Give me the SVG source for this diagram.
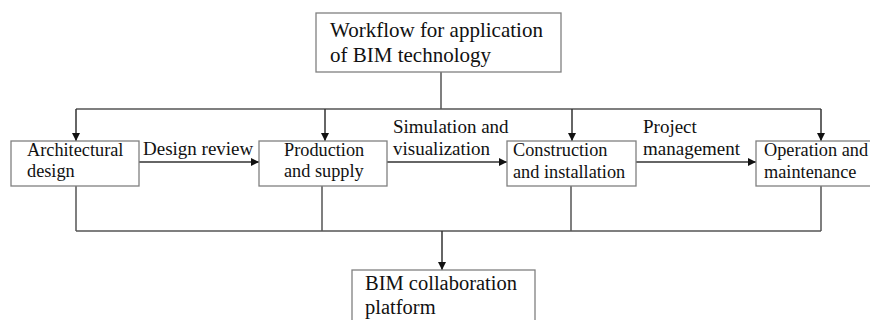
<svg xmlns="http://www.w3.org/2000/svg" width="870" height="320" viewBox="0 0 870 320">
<style>
.box{fill:#fff;stroke:#808080;stroke-width:1.3}
.t{font-family:"Liberation Serif","Times New Roman",serif;font-size:18.3px;fill:#111}
.lb{font-family:"Liberation Serif","Times New Roman",serif;font-size:19px;fill:#111}
.tl{font-family:"Liberation Serif","Times New Roman",serif;font-size:21px;fill:#111}
.ln{fill:none;stroke:#555;stroke-width:1.5}
.ar{fill:none;stroke:#333;stroke-width:1.5;marker-end:url(#ah)}
</style>
<defs>
<marker id="ah" viewBox="0 0 10 10" refX="10" refY="5" markerWidth="10" markerHeight="8" markerUnits="userSpaceOnUse" orient="auto">
<path d="M0,0 L10,5 L0,10 Z" fill="#111"/>
</marker>
</defs>
<rect width="870" height="320" fill="#fff"/>
<g id="connectors">
<path class="ln" d="M441,72 V109 M76,109 H821"/>
<path class="ar" d="M76,109 V141"/>
<path class="ar" d="M325,109 V141"/>
<path class="ar" d="M572,109 V141"/>
<path class="ar" d="M821,109 V141"/>
<path class="ar" d="M139,162 H259"/>
<path class="ar" d="M387,162 H507"/>
<path class="ar" d="M636,162 H756"/>
<path class="ln" d="M76,186 V231 M322,186 V231 M571,186 V231 M821,186 V231 M76,231 H821"/>
<path class="ar" d="M442,231 V270"/>
<text class="lb" x="143" y="155">Design review</text>
<text class="lb" x="393" y="133">Simulation and</text>
<text class="lb" x="393" y="155">visualization</text>
<text class="lb" x="643" y="133">Project</text>
<text class="lb" x="643" y="155">management</text>
</g>
<g id="workflow">
<rect class="box" x="316" y="13" width="245" height="59"/>
<text class="tl" x="330" y="37">Workflow for application</text>
<text class="tl" x="330" y="62">of BIM technology</text>
</g>
<g id="architectural">
<rect class="box" x="11" y="141" width="128" height="45"/>
<text class="t" x="27" y="156">Architectural</text>
<text class="t" x="27" y="177">design</text>
</g>
<g id="production">
<rect class="box" x="259" y="141" width="128" height="45"/>
<text class="t" x="284" y="156">Production</text>
<text class="t" x="284" y="177">and supply</text>
</g>
<g id="construction">
<rect class="box" x="507" y="141" width="129" height="45"/>
<text class="t" x="513" y="156">Construction</text>
<text class="t" x="513" y="178">and installation</text>
</g>
<g id="operation">
<rect class="box" x="756" y="141" width="130" height="45"/>
<text class="t" x="764" y="156">Operation and</text>
<text class="t" x="764" y="178">maintenance</text>
</g>
<g id="platform">
<rect class="box" x="352" y="270" width="183" height="60"/>
<text class="tl" x="365" y="290" style="font-size:20.5px">BIM collaboration</text>
<text class="tl" x="365" y="314" style="font-size:20.5px">platform</text>
</g>
</svg>
